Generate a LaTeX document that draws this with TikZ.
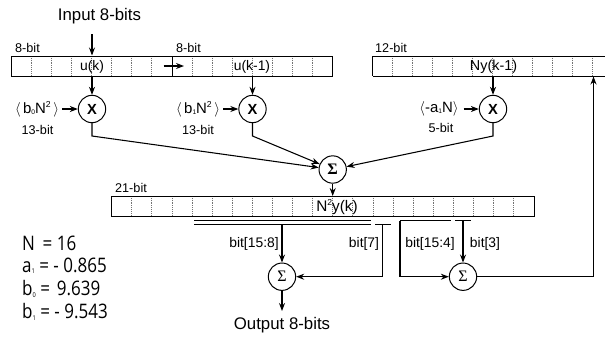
\documentclass[tikz,border=0pt]{standalone}
\usepackage{fontspec}
\setmainfont{Liberation Sans}
\newfontfamily\condfont{Open Sans}
\newfontfamily\serifsym{Liberation Serif}
\usetikzlibrary{arrows.meta}
\tikzset{
  x=0.75pt,y=-0.75pt,
  wire/.style={line width=0.8pt,draw=black},
  arr/.style={wire,-{Stealth[length=6pt,width=4.5pt]}},
  regbox/.style={line width=0.7pt,draw=black},
  cell/.style={line width=0.4pt,draw=black!55,densely dotted},
  opnode/.style={circle,draw=black,line width=0.75pt,minimum size=20.5pt,inner sep=0pt,fill=white},
  lab/.style={font=\fontsize{9.5}{10}\selectfont,inner sep=0pt},
  tag/.style={font=\fontsize{10.4}{11}\selectfont,inner sep=0pt},
  big/.style={font=\fontsize{12.6}{14}\selectfont,inner sep=0pt},
  coef/.style={font=\fontsize{11.2}{13}\selectfont,inner sep=0pt},
  mulnode/.style={opnode,font=\bfseries\fontsize{11}{12}\selectfont},
  eqn/.style={font=\condfont\fontsize{15}{17}\selectfont,inner sep=0pt,anchor=west,xscale=0.85},
  tap/.style={line width=0.75pt,draw=black},
}
\newcommand{\sm}[1]{\raisebox{-1pt}{\fontsize{5}{5}\selectfont #1}}
\newcommand{\su}[1]{\raisebox{4.2pt}{\fontsize{6.5}{6}\selectfont #1}}
\begin{document}
\begin{tikzpicture}
\useasboundingbox (0,0) rectangle (605,337);
\clip (0,0) rectangle (605,337);
% registers
\draw[cell] foreach \i in {1,...,7} {(11+20*\i,56)--(11+20*\i,76)};
\draw[cell] foreach \i in {1,...,7} {(172+20*\i,56)--(172+20*\i,76)};
\draw[cell] foreach \i in {1,...,11} {(372.5+20*\i,56)--(372.5+20*\i,76)};
\draw[cell] foreach \i in {1,...,20} {(111.5+20.1*\i,196)--(111.5+20.1*\i,216)};
\draw[regbox] (11,56) rectangle (172,76);
\draw[regbox] (172,56) rectangle (332.5,76);
\draw[regbox] (372.5,76) -- (372.5,56) -- (606,56) (606,76) -- (372.5,76);
\draw[regbox] (111.5,196) rectangle (534,216);
\node[lab] (w1) at (27.5,47.5) {8-bit};
\node[lab] (w2) at (188.5,47.5) {8-bit};
\node[lab] (w3) at (391,47.5) {12-bit};
\node[lab] (w4) at (131,188) {21-bit};
\node[big] (inp) at (99.5,16) {Input 8-bits};
\node[tag] (uk) at (92,66.5) {u(k)};
\node[tag] (ukm) at (252,66.5) {u(k-1)};
\node[tag,font=\fontsize{10.8}{12}\selectfont] (ny) at (493.5,66.5) {Ny(k-1)};
\node[tag,font=\fontsize{11.5}{12}\selectfont] (n2y) at (337,207) {N\su{2}y(k)};
% multipliers
\node[mulnode] (m0) at (92,109) {X};
\node[mulnode] (m1) at (252.5,109) {X};
\node[mulnode] (m2) at (493,109) {X};
\node[opnode,font=\serifsym\bfseries\fontsize{12}{12}\selectfont] (sg) at (332.7,169.5) {Σ};
\node[opnode,font=\serifsym\fontsize{12}{12}\selectfont] (s1) at (282,276.7) {Σ};
\node[opnode,font=\serifsym\fontsize{12}{12}\selectfont] (s2) at (463,276.7) {Σ};
% coefficients
\node[coef] (c0) at (37,109) {$\langle$\,b\sm{0}N\su{2}\,$\rangle$};
\node[coef] (c1) at (198,109) {$\langle$\,b\sm{1}N\su{2}\,$\rangle$};
\node[coef] (c2) at (439,109) {$\langle$-a\sm{1}N$\rangle$};
\node[lab] (b0) at (37.5,129.5) {13-bit};
\node[lab] (b1) at (198,129.5) {13-bit};
\node[lab] (b2) at (441,127.5) {5-bit};
% coordinates
\coordinate (inT) at (92,34);
\coordinate (shA) at (163.5,66);
\coordinate (shB) at (184,66);
\coordinate (k0) at (92,136);
\coordinate (k1) at (252.5,136);
\coordinate (k2) at (493,136);
\coordinate (fbT) at (593.5,76.5);
\coordinate (fbC) at (593.5,276.7);
\coordinate (tA) at (282,224);
\coordinate (tF) at (382.7,276.7);
\coordinate (tFt) at (382.7,224);
\coordinate (tC) at (463,220.5);
\coordinate (tD) at (400,220.5);
\coordinate (tE) at (400,276.7);
\coordinate (c0e) at (62,109);
\coordinate (c1e) at (223,109);
\coordinate (c2e) at (463.5,109);
% connections
\draw[arr] (inT) -- (92,55.5);
\draw[arr] (92,76) -- (m0);
\draw[arr] (252.5,76) -- (m1);
\draw[arr] (493,76) -- (m2);
\draw[arr] (shA) -- (shB);
\draw[arr] (c0e) -- (m0);
\draw[arr] (c1e) -- (m1);
\draw[arr] (c2e) -- (m2);
\draw[arr] (m0) -- (k0) -- (sg);
\draw[arr] (m1) -- (k1) -- (sg);
\draw[arr] (m2) -- (k2) -- (sg);
\draw[arr] (sg) -- (332.7,196);
% taps
\draw[tap] (194,220.5) -- (371,220.5) (194,224) -- (371,224);
\draw[tap] (375,224) -- (390.7,224);
\draw[tap] (400,220.5) -- (450.7,220.5);
\draw[tap] (455,220.5) -- (470.7,220.5);
\draw[arr] (tA) -- (s1);
\draw[arr] (tFt) -- (tF) -- (s1);
\draw[wire] (tD) -- (tE);
\draw[arr] (tE) -- (s2);
\draw[arr] (tC) -- (s2);
\draw[arr] (s2) -- (fbC) -- (fbT);
\coordinate (outE) at (282,311);
\draw[arr] (s1) -- (outE);
\node[tag] (l1) at (254,243.5) {bit[15:8]};
\node[tag] (l2) at (364,243.5) {bit[7]};
\node[tag] (l3) at (430,244) {bit[15:4]};
\node[tag] (l4) at (485,243.5) {bit[3]};
\node[big] (out) at (282,325.5) {Output 8-bits};
% constants
\node[eqn] (e1) at (22,243) {N\hspace{0.45em}= 16};
\node[eqn] (e2) at (22,266) {a\sm{1} = - 0.865};
\node[eqn] (e3) at (22,289) {b\sm{0} =\hspace{0.4em}9.639};
\node[eqn] (e4) at (22,312) {b\sm{1} = - 9.543};
\end{tikzpicture}
\end{document}
